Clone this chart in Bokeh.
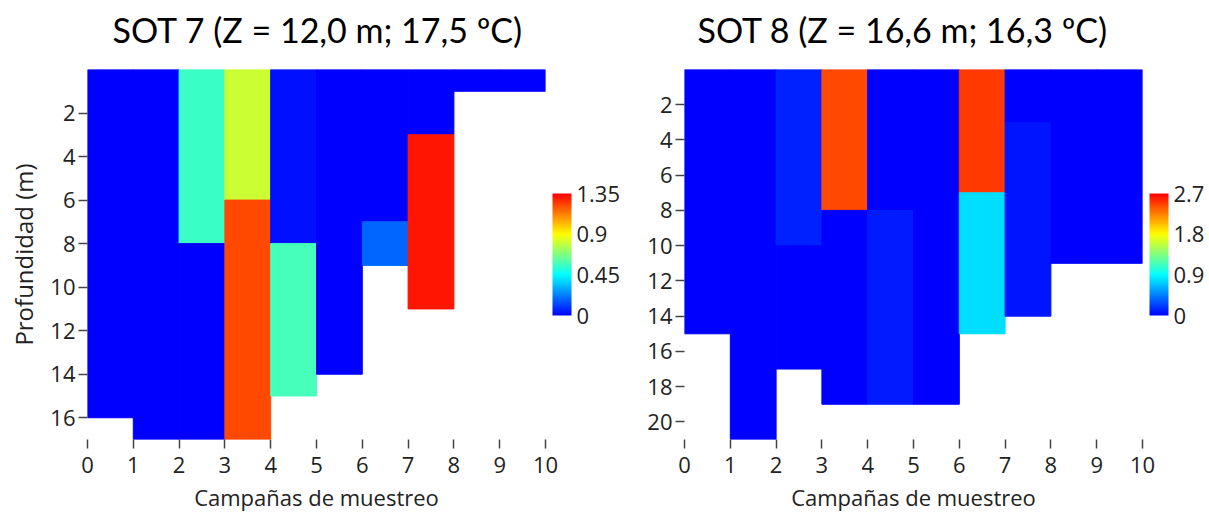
from bokeh.plotting import figure
from bokeh.models import (Range1d, FixedTicker, LinearColorMapper, ColorBar,
                          ColumnDataSource, CustomJSTickFormatter, Title)
from bokeh.layouts import row
from bokeh.embed import file_html
from bokeh.resources import INLINE

# ---------------- data ----------------
campaign_ticks = [0, 1, 2, 3, 4, 5, 6, 7, 8, 9, 10]

sot7_title = "SOT 7 (Z = 12,0 m; 17,5 ºC)"
sot7_campaign = [0, 1, 2, 2, 3, 3, 4, 4, 5, 6, 6, 7, 7, 8, 9]
sot7_depth_top = [0, 0, 0, 8, 0, 6, 0, 8, 0, 0, 7, 0, 3, 0, 0]
sot7_depth_bottom = [16, 17, 8, 17, 6, 17, 8, 15, 14, 7, 9, 3, 11, 1, 1]
sot7_value = [0, 0, 0.55, 0, 0.81, 1.22, 0.03, 0.57, 0, 0, 0.18, 0, 1.31, 0, 0]
sot7_depth_max = 17
sot7_depth_ticks = [2, 4, 6, 8, 10, 12, 14, 16]
sot7_cbar_ticks = [0, 0.45, 0.9, 1.35]

sot8_title = "SOT 8 (Z = 16,6 m; 16,3 ºC)"
sot8_campaign = [0, 1, 2, 2, 3, 3, 4, 4, 5, 6, 6, 7, 7, 8, 9]
sot8_depth_top = [0, 0, 0, 10, 0, 8, 0, 8, 0, 0, 7, 0, 3, 0, 0]
sot8_depth_bottom = [15, 21, 10, 17, 8, 19, 8, 19, 19, 7, 15, 3, 14, 11, 11]
sot8_value = [0, 0, 0.12, 0, 2.44, 0, 0, 0.10, 0, 2.49, 0.79, 0, 0.08, 0, 0]
sot8_depth_max = 21
sot8_depth_ticks = [2, 4, 6, 8, 10, 12, 14, 16, 18, 20]
sot8_cbar_ticks = [0, 0.9, 1.8, 2.7]

x_label = "Campañas de muestreo"
y_label = "Profundidad (m)"

# ---------------- palette (blue -> cyan -> yellow -> red) ----------------
stops = [(0.0, (0, 0, 255)), (1 / 3, (0, 255, 255)), (2 / 3, (255, 255, 0)), (1.0, (255, 0, 0))]
palette = []
for i in range(256):
    t = i / 255
    for (t0, c0), (t1, c1) in zip(stops[:-1], stops[1:]):
        if t0 <= t <= t1:
            f = (t - t0) / (t1 - t0)
            c = [round(a + (b - a) * f) for a, b in zip(c0, c1)]
            palette.append("#%02x%02x%02x" % tuple(c))
            break

FONT = "Open Sans"
TXT = "#222222"


def make_panel(title, campaign, dtop, dbot, value, dmax, dticks, cticks,
               show_ylabel, mb_left, mb_right, mb_top, mb_bottom, title_offset):
    src = ColumnDataSource(dict(
        left=campaign,
        right=[c + 1 for c in campaign],
        top=dtop,
        bottom=dbot,
        value=value,
    ))
    mapper = LinearColorMapper(palette=palette, low=cticks[0], high=cticks[-1])
    p = figure(frame_width=458, frame_height=370,
               x_range=Range1d(0, 10), y_range=Range1d(dmax, 0),
               min_border_left=mb_left, min_border_right=mb_right,
               min_border_top=mb_top, min_border_bottom=mb_bottom,
               output_backend="svg", toolbar_location=None)
    color = {"field": "value", "transform": mapper}
    p.quad(left="left", right="right", top="top", bottom="bottom", source=src,
           fill_color=color, line_color=color, line_width=1)

    # spacer between frame and title (pushes title upward), then the title itself
    p.add_layout(Title(text=" ", text_font_size="14px", standoff=0), "above")
    p.add_layout(Title(text=title, align="left", offset=title_offset, standoff=4,
                       text_font="Lato", text_font_size="34px", text_font_style="normal",
                       text_color="#000000"), "above")

    p.grid.visible = False
    p.outline_line_color = None

    p.xaxis.ticker = FixedTicker(ticks=campaign_ticks)
    p.yaxis.ticker = FixedTicker(ticks=dticks)
    for ax in (p.xaxis, p.yaxis):
        ax.axis_line_color = None
        ax.major_tick_in = 0
        ax.major_tick_out = 9
        ax.minor_tick_line_color = None
        ax.major_tick_line_color = "#444444"
        ax.major_tick_line_width = 1.5
        ax.major_label_text_font = FONT
        ax.major_label_text_font_size = "22px"
        ax.major_label_text_color = TXT
        ax.axis_label_text_font = FONT
        ax.axis_label_text_font_size = "22px"
        ax.axis_label_text_font_style = "normal"
        ax.axis_label_text_color = TXT
    p.xaxis.major_label_standoff = 8
    p.yaxis.major_label_standoff = 3
    p.xaxis.axis_label = x_label
    p.xaxis.axis_label_standoff = 6
    if show_ylabel:
        p.yaxis.axis_label = y_label
        p.yaxis.axis_label_text_font_size = "24px"
        p.yaxis.axis_label_standoff = 7

    cb = ColorBar(color_mapper=mapper, ticker=FixedTicker(ticks=cticks),
                  formatter=CustomJSTickFormatter(code="return String(Math.round(tick*100)/100)"),
                  width=19, height=122, location="center", padding=7, margin=8,
                  major_tick_line_color=None, bar_line_color=None,
                  label_standoff=5,
                  major_label_text_font=FONT, major_label_text_font_size="22px",
                  major_label_text_color=TXT, background_fill_color=None,
                  border_line_color=None)
    p.add_layout(cb, "right")
    return p


p1 = make_panel(sot7_title, sot7_campaign, sot7_depth_top, sot7_depth_bottom, sot7_value,
                sot7_depth_max, sot7_depth_ticks, sot7_cbar_ticks, True, 87, 85, 67, 77, 25)
p2 = make_panel(sot8_title, sot8_campaign, sot8_depth_top, sot8_depth_bottom, sot8_value,
                sot8_depth_max, sot8_depth_ticks, sot8_cbar_ticks, False, 54, 68, 69, 75, 13)

layout = row(p1, p2)
open("out.html", "w").write(file_html(layout, INLINE))
